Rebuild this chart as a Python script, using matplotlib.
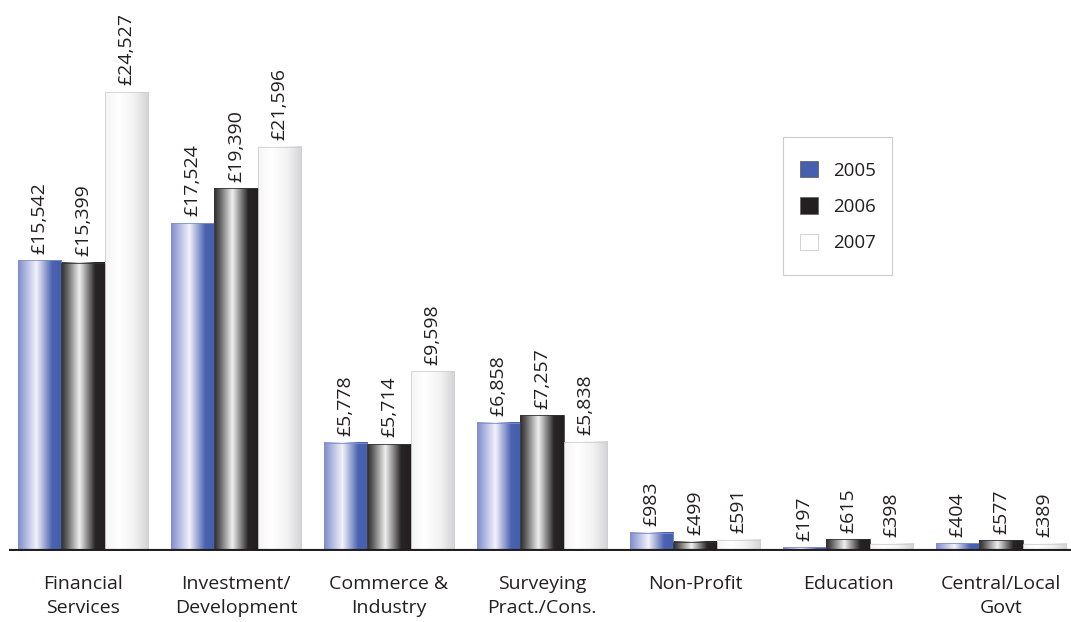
import numpy as np
import matplotlib.pyplot as plt
from matplotlib.colors import LinearSegmentedColormap
from matplotlib.patches import Patch, Rectangle

## data
categories = ['Financial\nServices', 'Investment/\nDevelopment', 'Commerce &\nIndustry',
              'Surveying\nPract./Cons.', 'Non-Profit', 'Education', 'Central/Local\nGovt']
years = ['2005', '2006', '2007']
v2005 = [15542, 17524, 5778, 6858, 983, 197, 404]
v2006 = [15399, 19390, 5714, 7257, 499, 615, 577]
v2007 = [24527, 21596, 9598, 5838, 591, 398, 389]

plt.rcParams['font.family'] = ['Open Sans', 'DejaVu Sans']

# gradient maps for the "cylinder" look
cmaps = [
    LinearSegmentedColormap.from_list('blue', [(0, '#7d8ccc'), (0.42, '#f2f2fb'),
                                               (0.78, '#4a62b0'), (1, '#4660ad')]),
    LinearSegmentedColormap.from_list('black', [(0, '#2b2b2b'), (0.12, '#5a5a5a'),
                                                (0.42, '#f0f0f0'), (0.78, '#262425'), (1, '#231f20')]),
    LinearSegmentedColormap.from_list('white', [(0, '#f4f4f4'), (0.3, '#ffffff'),
                                                (0.65, '#f3f3f3'), (1, '#d4d4d6')]),
]
edge = ['#8090c8', '#333333', '#d0d0d0']
swatch = ['#4660ad', '#231f20', '#ffffff']

fig = plt.figure(figsize=(10.71, 6.22), dpi=100)
ax = fig.add_axes([9/1071, 71/622, 1062/1071, 551/622])

ymax = 24527 * 551 / 459
x = np.arange(len(categories))
w = 0.285
grad = np.linspace(0, 1, 256).reshape(1, -1)
for k, vals in enumerate([v2005, v2006, v2007]):
    xs = x + (k - 1) * w
    bars = ax.bar(xs, vals, width=w, color='none', edgecolor=edge[k], linewidth=0.6, zorder=3)
    for b, v in zip(bars, vals):
        x0 = b.get_x()
        ax.imshow(grad, cmap=cmaps[k], aspect='auto', extent=(x0, x0 + w, 0, v),
                  zorder=2, interpolation='bilinear')
        ax.text(b.get_x() + w / 2, v + ymax * 0.012, f'£{v:,}', rotation=90,
                ha='center', va='bottom', fontsize=14, color='#231f20')

ax.set_xlim(-0.484, 6.457)
ax.set_ylim(0, ymax)

ax.axhline(0, color='#231f20', linewidth=3, zorder=4)
for s in ax.spines.values():
    s.set_visible(False)
ax.set_yticks([])
ax.set_xticks(x)
ax.set_xticklabels(categories, fontsize=14, color='#231f20', linespacing=1.45)
ax.tick_params(axis='x', length=0, pad=17)

# legend box drawn separately so the padding can differ top/side
fig.patches.append(Rectangle((783/1071, 1 - 275/622), 109/1071, 138/622,
                             transform=fig.transFigure, facecolor='white',
                             edgecolor='#cccccc', linewidth=0.8, zorder=5))
handles = [Patch(facecolor=swatch[i], edgecolor='#cccccc' if i == 2 else '#666666', linewidth=0.6)
           for i in range(3)]
leg = fig.legend(handles, years, loc='upper left', bbox_to_anchor=(800/1071, 1 - 161/622),
                 fontsize=13.5, frameon=False,
                 handlelength=0.95, handleheight=0.95, handletextpad=0.8,
                 labelspacing=0.95, borderpad=0, borderaxespad=0)
leg.set_zorder(6)
for t in leg.get_texts():
    t.set_color('#231f20')

fig.savefig('out.png', dpi=100)
